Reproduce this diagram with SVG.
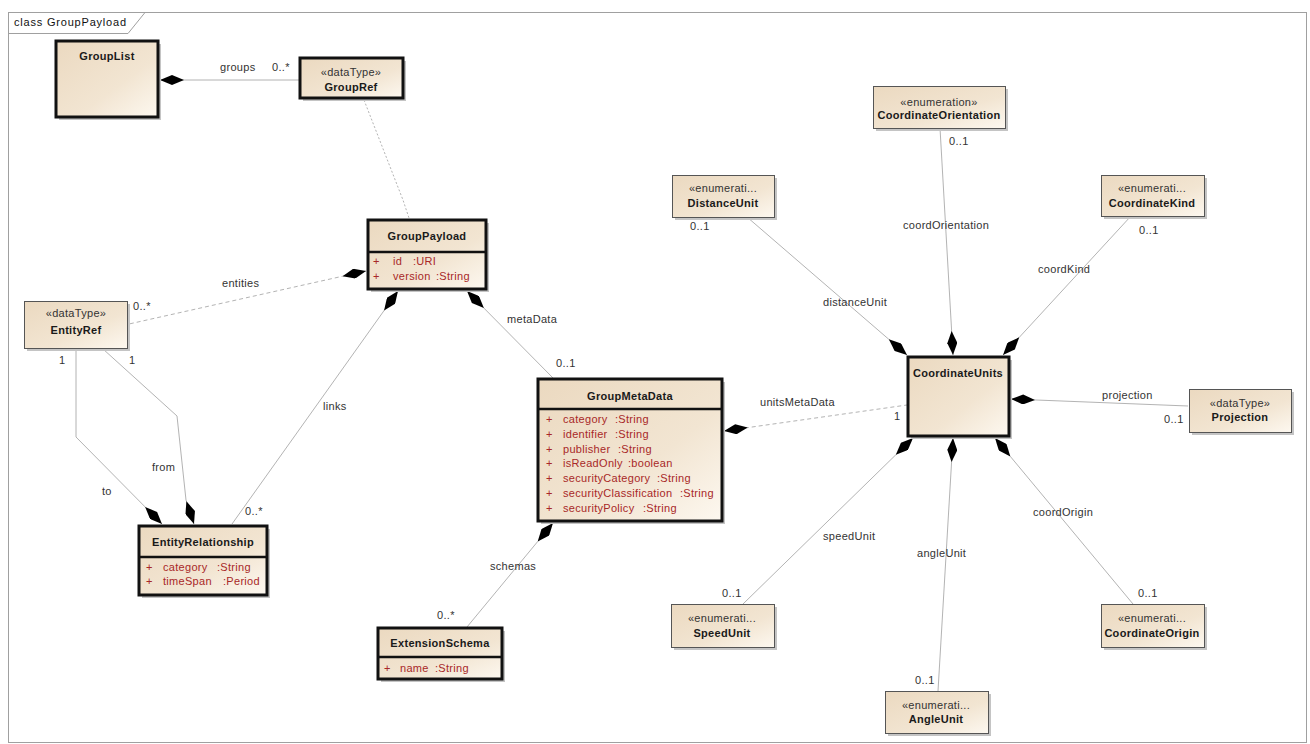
<svg xmlns="http://www.w3.org/2000/svg" width="1310" height="744" viewBox="0 0 1310 744">
<defs>
<linearGradient id="g" x1="0" y1="0" x2="1" y2="1">
<stop offset="0" stop-color="#ebd9c0"/>
<stop offset="0.6" stop-color="#f2e5d2"/>
<stop offset="1" stop-color="#fdf8f0"/>
</linearGradient>
<marker id="dia" viewBox="0 0 24 10" refX="0" refY="5" markerWidth="24" markerHeight="10" markerUnits="userSpaceOnUse" orient="auto">
<path d="M0,5 L12,0 L24,5 L12,10 Z" fill="#000"/>
</marker>
<style>
text{font-family:"Liberation Sans",Arial,sans-serif;}
.title{font-size:11px;font-weight:bold;fill:#1a1a1a;text-anchor:middle;letter-spacing:0.3px}
.st{font-size:11px;fill:#333;text-anchor:middle;letter-spacing:0.3px}
.attr{font-size:11px;fill:#a82828;letter-spacing:0.3px}
.lbl{font-size:11px;fill:#333;letter-spacing:0.3px}
.frame{font-size:11px;fill:#111;letter-spacing:0.8px}
.thick{fill:url(#g);stroke:#111;stroke-width:3}
.thin{fill:url(#g);stroke:#555;stroke-width:1}
.shadow{fill:#c4c4c4}
.div{stroke:#111;stroke-width:2.5}
.conn{stroke:#a0a0a0;stroke-width:0.8;fill:none}
.comp{marker-start:url(#dia)}
.dash{stroke-dasharray:4 3}
.dot{stroke-dasharray:2 2}
</style>
</defs>
<rect width="1310" height="744" fill="#fff"/>
<g id="frame">
<rect x="8.5" y="12.5" width="1298" height="730" fill="none" stroke="#a0a0a0" stroke-width="1"/>
<path d="M8.5,33.5 H128 L145,12.5" fill="none" stroke="#a0a0a0" stroke-width="1"/>
<text class="frame" x="14" y="26">class GroupPayload</text>
</g>
<g id="connectors">
<path class="conn comp" d="M160,80 L299,80"/>
<path class="conn dot" d="M364,100 L403,200 L409,218"/>
<path class="conn comp dash" d="M366,271 L129,324"/>
<path class="conn comp" d="M398,291 L232,524"/>
<path class="conn comp" d="M467,291 L553,378"/>
<path class="conn comp" d="M194,524 L186,500 L177,416 L103,349"/>
<path class="conn comp" d="M162,524 L76,437 L76,349"/>
<path class="conn comp dash" d="M724,431 L907,405"/>
<path class="conn comp" d="M553,523 L467,627"/>
<path class="conn comp" d="M907,355 L747,217"/>
<path class="conn comp" d="M953,355 L940,128"/>
<path class="conn comp" d="M1003,355 L1131,216"/>
<path class="conn comp" d="M1011,399 L1188,406"/>
<path class="conn comp" d="M913,438 L743,604"/>
<path class="conn comp" d="M953,438 L938,691"/>
<path class="conn comp" d="M995,438 L1133,604"/>
</g>
<g id="labels">
<text class="lbl" x="220" y="71">groups</text>
<text class="lbl" x="272" y="71">0..*</text>
<text class="lbl" x="222" y="287">entities</text>
<text class="lbl" x="133" y="310">0..*</text>
<text class="lbl" x="59" y="364">1</text>
<text class="lbl" x="129" y="364">1</text>
<text class="lbl" x="152" y="471">from</text>
<text class="lbl" x="102" y="495">to</text>
<text class="lbl" x="323" y="410">links</text>
<text class="lbl" x="245" y="515">0..*</text>
<text class="lbl" x="507" y="323">metaData</text>
<text class="lbl" x="556" y="367">0..1</text>
<text class="lbl" x="760" y="406">unitsMetaData</text>
<text class="lbl" x="894" y="420">1</text>
<text class="lbl" x="490" y="570">schemas</text>
<text class="lbl" x="437" y="619">0..*</text>
<text class="lbl" x="823" y="306">distanceUnit</text>
<text class="lbl" x="690" y="230">0..1</text>
<text class="lbl" x="903" y="229">coordOrientation</text>
<text class="lbl" x="949" y="145">0..1</text>
<text class="lbl" x="1038" y="273">coordKind</text>
<text class="lbl" x="1139" y="234">0..1</text>
<text class="lbl" x="1102" y="399">projection</text>
<text class="lbl" x="1164" y="423">0..1</text>
<text class="lbl" x="1033" y="516">coordOrigin</text>
<text class="lbl" x="823" y="540">speedUnit</text>
<text class="lbl" x="917" y="557">angleUnit</text>
<text class="lbl" x="722" y="597">0..1</text>
<text class="lbl" x="1138" y="597">0..1</text>
<text class="lbl" x="915" y="684">0..1</text>
</g>
<g id="GroupList">
<rect class="shadow" x="59" y="44" width="102" height="76"/>
<rect class="thick" x="56" y="41" width="102" height="76"/>
<text class="title" x="107" y="60">GroupList</text>
</g>
<g id="GroupRef">
<rect class="shadow" x="303" y="61" width="103" height="40"/>
<rect class="thick" x="300" y="58" width="103" height="40"/>
<text class="st" x="351" y="76">«dataType»</text>
<text class="title" x="351" y="91">GroupRef</text>
</g>
<g id="GroupPayload">
<rect class="shadow" x="371" y="223" width="118" height="69"/>
<rect class="thick" x="368" y="220" width="118" height="69"/>
<line class="div" x1="368" y1="252" x2="486" y2="252"/>
<text class="title" x="427" y="240">GroupPayload</text>
<text class="attr" x="373" y="265">+<tspan x="393">id</tspan><tspan x="413">:URI</tspan></text>
<text class="attr" x="373" y="280">+<tspan x="393">version</tspan><tspan x="436">:String</tspan></text>
</g>
<g id="EntityRef">
<rect class="shadow" x="27" y="304" width="103" height="47"/>
<rect class="thin" x="24.5" y="301.5" width="103" height="47"/>
<text class="st" x="76" y="317">«dataType»</text>
<text class="title" x="76" y="334">EntityRef</text>
</g>
<g id="EntityRelationship">
<rect class="shadow" x="142" y="529" width="128" height="69"/>
<rect class="thick" x="139" y="526" width="128" height="69"/>
<line class="div" x1="139" y1="557" x2="267" y2="557"/>
<text class="title" x="203" y="546">EntityRelationship</text>
<text class="attr" x="146" y="571">+<tspan x="163">category</tspan><tspan x="217">:String</tspan></text>
<text class="attr" x="146" y="585">+<tspan x="163">timeSpan</tspan><tspan x="223">:Period</tspan></text>
</g>
<g id="GroupMetaData">
<rect class="shadow" x="541" y="382" width="184" height="142"/>
<rect class="thick" x="538" y="379" width="184" height="142"/>
<line class="div" x1="538" y1="409" x2="722" y2="409"/>
<text class="title" x="630" y="400">GroupMetaData</text>
<text class="attr" x="546" y="423">+<tspan x="563">category</tspan><tspan x="615">:String</tspan></text>
<text class="attr" x="546" y="438">+<tspan x="563">identifier</tspan><tspan x="615">:String</tspan></text>
<text class="attr" x="546" y="453">+<tspan x="563">publisher</tspan><tspan x="618">:String</tspan></text>
<text class="attr" x="546" y="467">+<tspan x="563">isReadOnly</tspan><tspan x="628">:boolean</tspan></text>
<text class="attr" x="546" y="482">+<tspan x="563">securityCategory</tspan><tspan x="657">:String</tspan></text>
<text class="attr" x="546" y="497">+<tspan x="563">securityClassification</tspan><tspan x="680">:String</tspan></text>
<text class="attr" x="546" y="512">+<tspan x="563">securityPolicy</tspan><tspan x="643">:String</tspan></text>
</g>
<g id="ExtensionSchema">
<rect class="shadow" x="381" y="631" width="124" height="51"/>
<rect class="thick" x="378" y="628" width="124" height="51"/>
<line class="div" x1="378" y1="657" x2="502" y2="657"/>
<text class="title" x="440" y="647">ExtensionSchema</text>
<text class="attr" x="384" y="672">+<tspan x="400">name</tspan><tspan x="435">:String</tspan></text>
</g>
<g id="CoordinateUnits">
<rect class="shadow" x="911" y="360" width="101" height="79"/>
<rect class="thick" x="908" y="357" width="101" height="79"/>
<text class="title" x="958" y="377">CoordinateUnits</text>
</g>
<g id="CoordinateOrientation">
<rect class="shadow" x="876" y="89" width="132" height="42"/>
<rect class="thin" x="873.5" y="86.5" width="132" height="42"/>
<text class="st" x="939" y="106">«enumeration»</text>
<text class="title" x="939" y="119">CoordinateOrientation</text>
</g>
<g id="DistanceUnit">
<rect class="shadow" x="675" y="178" width="102" height="42"/>
<rect class="thin" x="672.5" y="175.5" width="102" height="42"/>
<text class="st" x="723" y="192">«enumerati...</text>
<text class="title" x="723" y="207">DistanceUnit</text>
</g>
<g id="CoordinateKind">
<rect class="shadow" x="1104" y="178" width="103" height="41"/>
<rect class="thin" x="1101.5" y="175.5" width="103" height="41"/>
<text class="st" x="1152" y="192">«enumerati...</text>
<text class="title" x="1152" y="207">CoordinateKind</text>
</g>
<g id="Projection">
<rect class="shadow" x="1192" y="392" width="102" height="43"/>
<rect class="thin" x="1189.5" y="389.5" width="102" height="43"/>
<text class="st" x="1240" y="407">«dataType»</text>
<text class="title" x="1240" y="421">Projection</text>
</g>
<g id="SpeedUnit">
<rect class="shadow" x="674" y="607" width="103" height="43"/>
<rect class="thin" x="671.5" y="604.5" width="103" height="43"/>
<text class="st" x="722" y="622">«enumerati...</text>
<text class="title" x="722" y="637">SpeedUnit</text>
</g>
<g id="CoordinateOrigin">
<rect class="shadow" x="1104" y="607" width="103" height="43"/>
<rect class="thin" x="1101.5" y="604.5" width="103" height="43"/>
<text class="st" x="1152" y="622">«enumerati...</text>
<text class="title" x="1152" y="637">CoordinateOrigin</text>
</g>
<g id="AngleUnit">
<rect class="shadow" x="888" y="694" width="103" height="42"/>
<rect class="thin" x="885.5" y="691.5" width="103" height="42"/>
<text class="st" x="936" y="709">«enumerati...</text>
<text class="title" x="936" y="723">AngleUnit</text>
</g>
</svg>
